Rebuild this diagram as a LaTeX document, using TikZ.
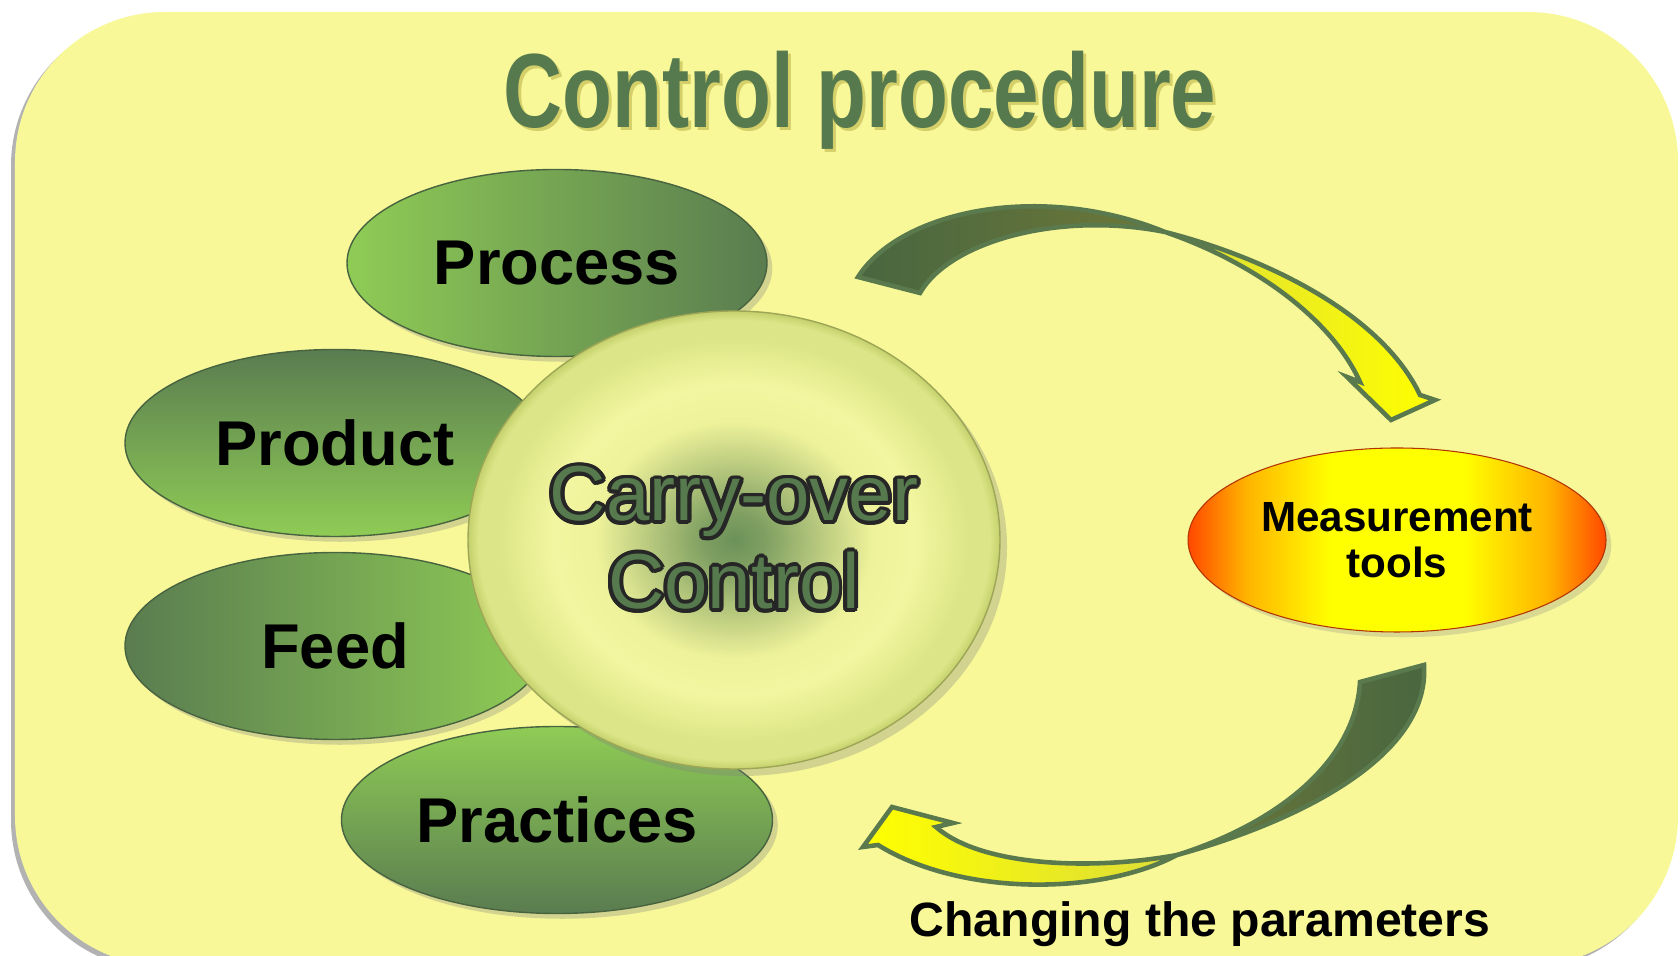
\documentclass[tikz,border=0pt]{standalone}
\usepackage{fontspec}
\setmainfont{Liberation Sans}
\usepackage{xcolor}
\usepackage{graphicx}
\usepackage{contour}
\usetikzlibrary{shapes.geometric,shadows}

\definecolor{cardyellow}{HTML}{F8F898}
\definecolor{lgreen}{HTML}{8FCC55}
\definecolor{dgreen}{HTML}{5A7C50}
\definecolor{titlegreen}{HTML}{567A4D}
\definecolor{cdark}{HTML}{6B915A}
\definecolor{cdark2}{HTML}{80A062}
\definecolor{cmid}{HTML}{B8C97E}
\definecolor{clight}{HTML}{EEF29A}
\definecolor{clight2}{HTML}{F3F6A0}
\definecolor{cedge}{HTML}{DCE688}
\definecolor{crim}{HTML}{C4D06C}
\definecolor{myellow}{HTML}{FFFF00}
\definecolor{morange}{HTML}{FFB400}
\definecolor{mred}{HTML}{FF4800}
\definecolor{arrline}{HTML}{5A7A4E}
\definecolor{arrdark}{HTML}{486640}
\definecolor{arrolive}{HTML}{6E7838}
\definecolor{arrpale}{HTML}{DCDC3A}

\pgfdeclareradialshading{carryshade}{\pgfpoint{0bp}{0bp}}{color(0bp)=(cdark); color(3bp)=(cdark2); color(8bp)=(cmid); color(13bp)=(clight); color(17bp)=(clight2); color(22bp)=(cedge); color(24bp)=(cedge); color(25bp)=(crim); color(50bp)=(crim)}
\pgfdeclarehorizontalshading{measshade}{100bp}{color(0bp)=(mred); color(25bp)=(mred); color(32bp)=(morange); color(42bp)=(myellow); color(58bp)=(myellow); color(68bp)=(morange); color(75bp)=(mred); color(100bp)=(mred)}

\contourlength{1.1pt}

\begin{document}
\begin{tikzpicture}[
    petal/.style={ellipse, minimum width=4.2cm, minimum height=1.87cm,
        draw=dgreen!80!black, line width=0.4pt,
        drop shadow={shadow xshift=1.5pt, shadow yshift=-1.5pt, opacity=0.3},
        font=\bfseries\fontsize{18}{20}\selectfont},
    ribbon/.style={draw=arrline, line width=1.3pt, line join=miter}
]
    \useasboundingbox (0,0) rectangle (16.8,9.56);

    % card
    \fill[black!30, rounded corners=1.5cm] (0.11,-0.14) rectangle (16.74,9.40);
    \fill[cardyellow, rounded corners=1.5cm] (0.15,-0.10) rectangle (16.78,9.44);

    % title
    \node[anchor=base, text=olive!60, opacity=0.6, font=\bfseries\fontsize{30}{30}\selectfont]
        at (8.63,8.25) {\scalebox{0.775}[1]{Control procedure}};
    \node[anchor=base, text=titlegreen, font=\bfseries\fontsize{30}{30}\selectfont]
        (Title) at (8.60,8.28) {\scalebox{0.775}[1]{Control procedure}};

    % the four petals
    \node[petal, left color=lgreen, right color=dgreen] (Proc) at (5.57,6.93) {Process};
    \node[petal, top color=dgreen, bottom color=lgreen] (Prod) at (3.35,5.13) {Product};
    \node[petal, left color=dgreen, right color=lgreen] (Feed) at (3.35,3.10) {Feed};
    \node[petal, top color=lgreen, bottom color=dgreen] (Prac) at (5.57,1.36) {Practices};

    % centre
    \node[ellipse, minimum width=5.32cm, minimum height=4.58cm, inner sep=0pt,
        shading=carryshade, draw=crim!80!black, line width=0.4pt,
        drop shadow={shadow xshift=2pt, shadow yshift=-2pt, opacity=0.3}]
        (Carry) at (7.34,4.16) {};
    \node[align=center, text=titlegreen, font=\fontsize{22.2}{25}\selectfont]
        (CarryTxt) at (Carry) {\contour{black!85}{Carry-over}\\\contour{black!85}{Control}};

    % measurement
    \node[ellipse, minimum width=4.18cm, minimum height=1.84cm, shading=measshade,
        draw=mred!70!black, line width=0.3pt,
        drop shadow={shadow xshift=1.5pt, shadow yshift=-1.5pt, opacity=0.25},
        align=center, font=\bfseries\fontsize{12}{13.1}\selectfont]
        (Meas) at (13.97,4.16) {Measurement\\tools};

    % upper ribbon arrow
    \coordinate (TwA) at (11.65,7.24);
    \shadedraw[ribbon, left color=arrdark, right color=arrolive]
        (8.58,6.79) .. controls (9.0,7.45) and (10.4,7.75) .. (TwA)
        .. controls (10.6,7.45) and (9.5,7.15) .. (9.20,6.63) -- cycle;
    \shadedraw[ribbon, left color=arrpale, right color=myellow]
        (TwA) .. controls (12.6,7.0) and (13.8,6.45) .. (14.20,5.61)
        -- (14.35,5.56) -- (13.91,5.36) -- (13.47,5.79) -- (13.60,5.74)
        .. controls (13.3,6.4) and (12.5,6.95) .. (TwA) -- cycle;

    % lower ribbon arrow
    \coordinate (TwB) at (11.77,1.01);
    \shadedraw[ribbon, left color=arrolive, right color=arrdark]
        (13.60,2.74) -- (14.24,2.91) .. controls (14.3,2.0) and (13.0,1.35) .. (TwB)
        .. controls (12.7,1.3) and (13.55,1.9) .. (13.60,2.74) -- cycle;
    \shadedraw[ribbon, left color=myellow, right color=arrpale]
        (TwB) .. controls (11.0,0.6) and (9.6,0.6) .. (8.78,1.11)
        -- (8.63,1.09) -- (8.92,1.49) -- (9.53,1.33) -- (9.36,1.29)
        .. controls (9.8,0.9) and (10.9,0.85) .. (TwB) -- cycle;

    \node[anchor=base, font=\bfseries\fontsize{13.7}{15}\selectfont]
        (Chg) at (12.00,0.19) {Changing the parameters};
\end{tikzpicture}
\end{document}
